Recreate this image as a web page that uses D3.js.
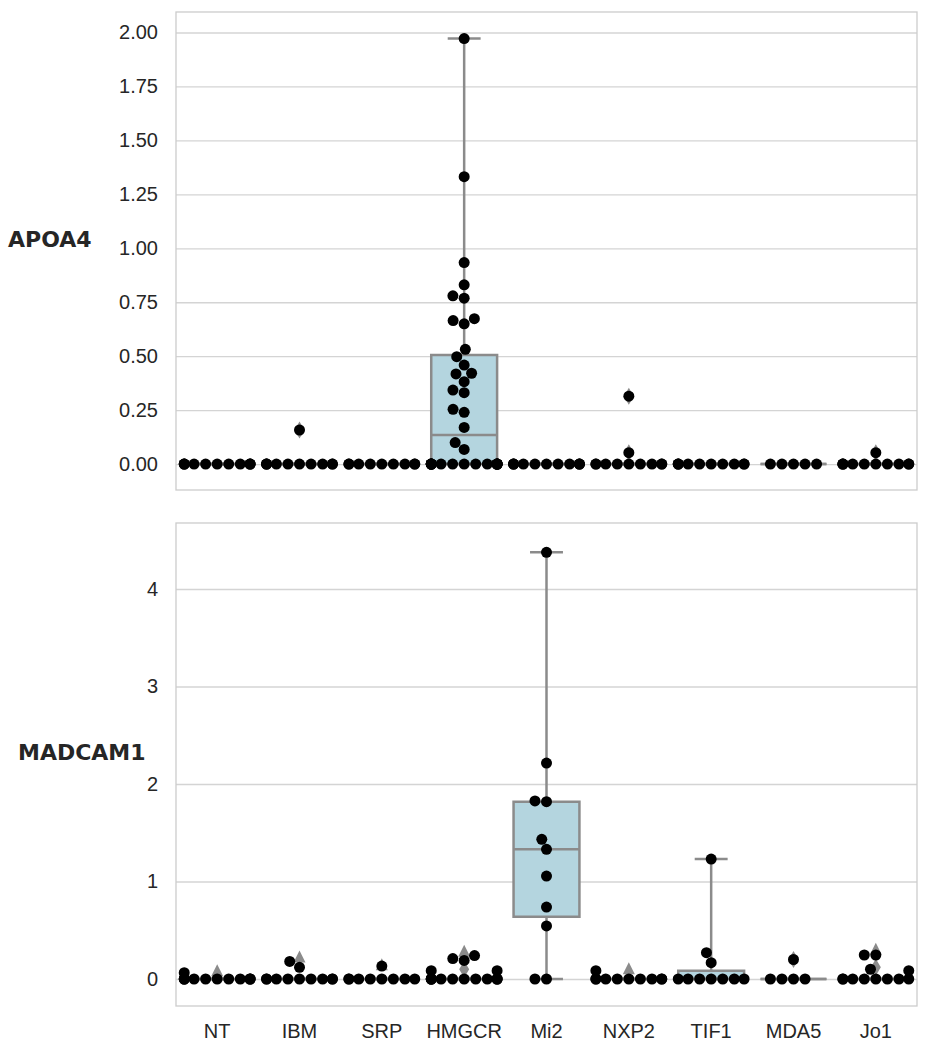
<!DOCTYPE html>
<html>
<head>
<meta charset="utf-8">
<script src="https://cdn.jsdelivr.net/npm/d3@7"></script>
<style>
  body { margin: 0; background: #fff; }
</style>
</head>
<body>
<svg id="chart" width="928" height="1050"></svg>
<script>
const groups = ["NT", "IBM", "SRP", "HMGCR", "Mi2", "NXP2", "TIF1", "MDA5", "Jo1"];

// APOA4 - sample values per group
const apoa4Values = [
  [0, 0, 0, 0, 0, 0, 0, 0, 0, 0, 0],
  [0, 0, 0, 0, 0, 0, 0, 0, 0, 0, 0.158],
  [0, 0, 0, 0, 0, 0, 0, 0, 0],
  [0, 0, 0, 0, 0, 0, 0, 0, 0, 0, 0, 0, 0, 0, 0, 0, 0,
   0.068, 0.10, 0.17, 0.24, 0.254, 0.331, 0.343, 0.382, 0.418, 0.421, 0.459,
   0.498, 0.532, 0.65, 0.665, 0.674, 0.769, 0.78, 0.831, 0.934, 1.332, 1.972],
  [0, 0, 0, 0, 0, 0, 0, 0, 0, 0, 0],
  [0, 0, 0, 0, 0, 0, 0, 0, 0, 0.053, 0.315],
  [0, 0, 0, 0, 0, 0, 0, 0, 0, 0],
  [0, 0, 0, 0, 0],
  [0, 0, 0, 0, 0, 0, 0, 0, 0, 0, 0.053]
];
const apoa4Q1 = [0, 0, 0, 0, 0, 0, 0, 0, 0];
const apoa4Median = [0, 0, 0, 0.135, 0, 0, 0, 0, 0];
const apoa4Q3 = [0, 0, 0, 0.506, 0, 0, 0, 0, 0];
const apoa4WhiskLo = [0, 0, 0, 0, 0, 0, 0, 0, 0];
const apoa4WhiskHi = [0, 0, 0, 1.972, 0, 0, 0, 0, 0];
const apoa4Mean = [null, null, null, null, null, null, null, null, null];
const apoa4Fliers = [[], [0.158], [], [], [], [0.053, 0.315], [], [], [0.053]];
const apoa4Ticks = [0, 0.25, 0.5, 0.75, 1, 1.25, 1.5, 1.75, 2];

// MADCAM1 - sample values per group
const madcam1Values = [
  [0, 0, 0, 0, 0, 0, 0, 0, 0, 0, 0, 0.065],
  [0, 0, 0, 0, 0, 0, 0, 0, 0, 0.12, 0.18],
  [0, 0, 0, 0, 0, 0, 0, 0, 0.133],
  [0, 0, 0, 0, 0, 0, 0, 0, 0, 0, 0, 0, 0.085, 0.085, 0.19, 0.21, 0.24],
  [0, 0, 0.544, 0.738, 1.056, 1.33, 1.433, 1.819, 1.826, 2.215, 4.376],
  [0, 0, 0, 0, 0, 0, 0, 0, 0, 0.085],
  [0, 0, 0, 0, 0, 0, 0, 0.167, 0.27, 1.23],
  [0, 0, 0, 0, 0.20],
  [0, 0, 0, 0, 0, 0, 0, 0, 0.085, 0.10, 0.246, 0.246]
];
const madcam1Q1 = [0, 0, 0, 0, 0.639, 0, 0, 0, 0];
const madcam1Median = [0, 0, 0, 0, 1.33, 0, 0, 0, 0];
const madcam1Q3 = [0, 0, 0, 0, 1.819, 0, 0.085, 0, 0];
const madcam1WhiskLo = [0, 0, 0, 0, 0, 0, 0, 0, 0];
const madcam1WhiskHi = [0, 0, 0, 0, 4.376, 0, 1.23, 0, 0];
const madcam1Mean = [0.09, 0.23, 0.15, 0.29, null, 0.11, null, null, 0.31];
const madcam1Fliers = [[], [], [], [0.10], [], [], [], [0.20], [0.12]];
const madcam1Ticks = [0, 1, 2, 3, 4];

const width = 928, height = 1050;
const left = 176, right = 917;
const boxFill = "#b4d5df", gray = "#8b8b8b", r = 5.5;
const tickFont = "'Liberation Sans', Arial, sans-serif";

const svg = d3.select("#chart");
svg.append("rect").attr("width", width).attr("height", height).attr("fill", "#fff");

const x = d3.scaleBand().domain(groups).range([left, right]).padding(0);

// seaborn-like beeswarm: place points low to high, nearest free spot to the centre, then clip to gutters
function swarm(values, cx, y, halfWidth) {
  const d = 2 * r;
  const pts = values.map(v => ({ v, y: y(v), x: cx })).sort((a, b) => b.y - a.y);
  const placed = [];
  for (const p of pts) {
    const neigh = placed.filter(q => Math.abs(q.y - p.y) < d);
    const cands = [cx];
    let leftFirst = true;
    for (const q of neigh) {
      const dx = Math.sqrt(Math.max(d * d - (p.y - q.y) ** 2, 0)) * 1.05;
      if (leftFirst) cands.push(q.x - dx, q.x + dx);
      else cands.push(q.x + dx, q.x - dx);
      leftFirst = !leftFirst;
    }
    const off = c => Math.round(Math.abs(c - cx) * 1e4);
    const order = cands.map((c, i) => ({ x: c, i }))
      .sort((a, b) => (off(a.x) - off(b.x)) || (a.i - b.i));
    for (const c of order) {
      if (neigh.every(q => Math.hypot(q.x - c.x, q.y - p.y) >= d - 1e-6)) { p.x = c.x; break; }
    }
    placed.push(p);
  }
  placed.forEach(p => { p.x = Math.max(cx - halfWidth, Math.min(cx + halfWidth, p.x)); });
  return placed;
}

function drawPanel(cfg) {
  const y = d3.scaleLinear().domain(cfg.domain).range([cfg.bottom, cfg.top]);
  const g = svg.append("g");

  // grid + tick labels
  const axis = d3.axisLeft(y).tickValues(cfg.ticks).tickFormat(cfg.format)
    .tickSize(-(right - left)).tickPadding(18);
  const ax = g.append("g").attr("transform", `translate(${left},0)`).call(axis);
  ax.select(".domain").remove();
  ax.selectAll("line").attr("stroke", "#d4d4d4").attr("stroke-width", 1.3);
  ax.selectAll("text").attr("font-size", 20).attr("font-family", tickFont).attr("fill", "#262626");

  // frame
  g.append("rect").attr("x", left).attr("y", cfg.top)
    .attr("width", right - left).attr("height", cfg.bottom - cfg.top)
    .attr("fill", "none").attr("stroke", "#cccccc").attr("stroke-width", 1.3);

  groups.forEach((grp, i) => {
    const cx = x(grp) + x.bandwidth() / 2;
    const hw = x.bandwidth() * 0.4;
    const bg = g.append("g");
    const line = (x1, y1, x2, y2) => bg.append("line")
      .attr("x1", x1).attr("y1", y1).attr("x2", x2).attr("y2", y2)
      .attr("stroke", gray).attr("stroke-width", 2.5);

    const yq1 = y(cfg.q1[i]), yq3 = y(cfg.q3[i]);
    bg.append("path")
      .attr("d", `M${cx - hw},${yq1}H${cx + hw}V${yq3}H${cx - hw}Z`)
      .attr("fill", boxFill).attr("stroke", gray).attr("stroke-width", 2.5);
    line(cx, yq3, cx, y(cfg.hi[i]));
    line(cx, yq1, cx, y(cfg.lo[i]));
    line(cx - hw / 2, y(cfg.hi[i]), cx + hw / 2, y(cfg.hi[i]));
    line(cx - hw / 2, y(cfg.lo[i]), cx + hw / 2, y(cfg.lo[i]));
    line(cx - hw, y(cfg.median[i]), cx + hw, y(cfg.median[i]));

    // fliers (thin diamonds)
    bg.selectAll("path.flier").data(cfg.fliers[i]).join("path").attr("class", "flier")
      .attr("d", v => `M${cx},${y(v) - 8.5}L${cx + 5},${y(v)}L${cx},${y(v) + 8.5}L${cx - 5},${y(v)}Z`)
      .attr("fill", gray);

    // mean marker (triangle)
    if (cfg.mean[i] != null) {
      const ym = y(cfg.mean[i]);
      bg.append("path")
        .attr("d", `M${cx},${ym - 6}L${cx + 6},${ym + 6}L${cx - 6},${ym + 6}Z`)
        .attr("fill", gray);
    }

    // swarm points
    const pts = swarm(cfg.values[i], cx, y, hw);
    bg.selectAll("circle").data(pts).join("circle")
      .attr("cx", p => p.x).attr("cy", p => p.y).attr("r", r).attr("fill", "#000");
  });

  svg.append("text").attr("x", cfg.labelX).attr("y", cfg.labelY)
    .style("font-family", "'DejaVu Sans', sans-serif").style("font-weight", "bold")
    .style("font-size", "22px").attr("fill", "#262626").text(cfg.label);

  return y;
}

drawPanel({
  top: 12, bottom: 490, domain: [-0.12, 2.095], ticks: apoa4Ticks, format: d3.format(".2f"),
  values: apoa4Values, q1: apoa4Q1, median: apoa4Median, q3: apoa4Q3,
  lo: apoa4WhiskLo, hi: apoa4WhiskHi, mean: apoa4Mean, fliers: apoa4Fliers,
  label: "APOA4", labelX: 8, labelY: 247
});

drawPanel({
  top: 523, bottom: 1006, domain: [-0.277, 4.677], ticks: madcam1Ticks, format: d3.format("d"),
  values: madcam1Values, q1: madcam1Q1, median: madcam1Median, q3: madcam1Q3,
  lo: madcam1WhiskLo, hi: madcam1WhiskHi, mean: madcam1Mean, fliers: madcam1Fliers,
  label: "MADCAM1", labelX: 18, labelY: 760
});

// category axis under the lower panel
const xAxis = svg.append("g").attr("transform", "translate(0,1006)")
  .call(d3.axisBottom(x).tickSize(0).tickPadding(18));
xAxis.select(".domain").remove();
xAxis.selectAll("text").attr("font-size", 20).attr("font-family", tickFont).attr("fill", "#262626");
</script>
</body>
</html>
